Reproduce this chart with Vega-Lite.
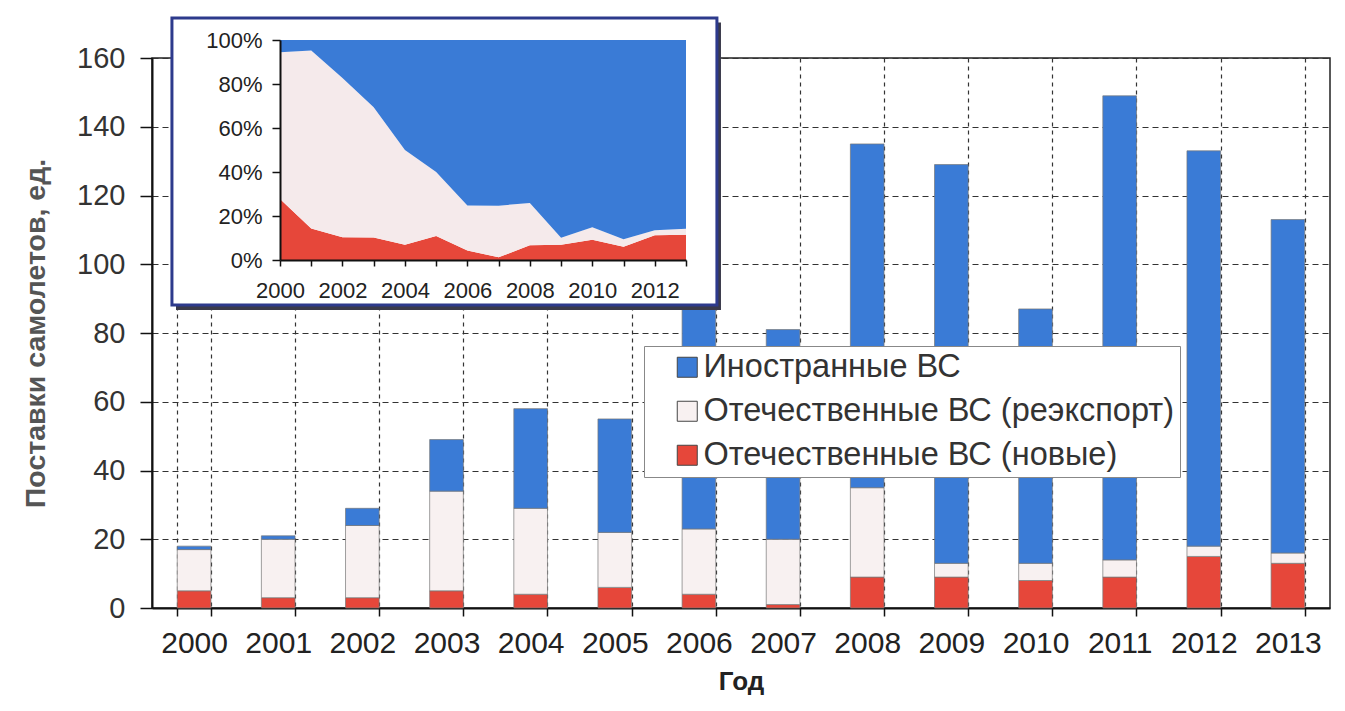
{
  "$schema": "https://vega.github.io/schema/vega-lite/v6.json",
  "width": 1178,
  "height": 550,
  "autosize": {"type": "none"},
  "padding": {"left": 152, "top": 58, "right": 15, "bottom": 103},
  "background": "white",
  "config": {
    "font": "Liberation Sans",
    "view": {"stroke": "#222", "strokeWidth": 1.5}
  },
  "data": {
    "values": [
      {"year": 2000, "type": "Отечественные ВС (новые)", "n": 5, "k": 1},
      {"year": 2000, "type": "Отечественные ВС (реэкспорт)", "n": 12, "k": 2},
      {"year": 2000, "type": "Иностранные ВС", "n": 1, "k": 3},
      {"year": 2001, "type": "Отечественные ВС (новые)", "n": 3, "k": 1},
      {"year": 2001, "type": "Отечественные ВС (реэкспорт)", "n": 17, "k": 2},
      {"year": 2001, "type": "Иностранные ВС", "n": 1, "k": 3},
      {"year": 2002, "type": "Отечественные ВС (новые)", "n": 3, "k": 1},
      {"year": 2002, "type": "Отечественные ВС (реэкспорт)", "n": 21, "k": 2},
      {"year": 2002, "type": "Иностранные ВС", "n": 5, "k": 3},
      {"year": 2003, "type": "Отечественные ВС (новые)", "n": 5, "k": 1},
      {"year": 2003, "type": "Отечественные ВС (реэкспорт)", "n": 29, "k": 2},
      {"year": 2003, "type": "Иностранные ВС", "n": 15, "k": 3},
      {"year": 2004, "type": "Отечественные ВС (новые)", "n": 4, "k": 1},
      {"year": 2004, "type": "Отечественные ВС (реэкспорт)", "n": 25, "k": 2},
      {"year": 2004, "type": "Иностранные ВС", "n": 29, "k": 3},
      {"year": 2005, "type": "Отечественные ВС (новые)", "n": 6, "k": 1},
      {"year": 2005, "type": "Отечественные ВС (реэкспорт)", "n": 16, "k": 2},
      {"year": 2005, "type": "Иностранные ВС", "n": 33, "k": 3},
      {"year": 2006, "type": "Отечественные ВС (новые)", "n": 4, "k": 1},
      {"year": 2006, "type": "Отечественные ВС (реэкспорт)", "n": 19, "k": 2},
      {"year": 2006, "type": "Иностранные ВС", "n": 70, "k": 3},
      {"year": 2007, "type": "Отечественные ВС (новые)", "n": 1, "k": 1},
      {"year": 2007, "type": "Отечественные ВС (реэкспорт)", "n": 19, "k": 2},
      {"year": 2007, "type": "Иностранные ВС", "n": 61, "k": 3},
      {"year": 2008, "type": "Отечественные ВС (новые)", "n": 9, "k": 1},
      {"year": 2008, "type": "Отечественные ВС (реэкспорт)", "n": 26, "k": 2},
      {"year": 2008, "type": "Иностранные ВС", "n": 100, "k": 3},
      {"year": 2009, "type": "Отечественные ВС (новые)", "n": 9, "k": 1},
      {"year": 2009, "type": "Отечественные ВС (реэкспорт)", "n": 4, "k": 2},
      {"year": 2009, "type": "Иностранные ВС", "n": 116, "k": 3},
      {"year": 2010, "type": "Отечественные ВС (новые)", "n": 8, "k": 1},
      {"year": 2010, "type": "Отечественные ВС (реэкспорт)", "n": 5, "k": 2},
      {"year": 2010, "type": "Иностранные ВС", "n": 74, "k": 3},
      {"year": 2011, "type": "Отечественные ВС (новые)", "n": 9, "k": 1},
      {"year": 2011, "type": "Отечественные ВС (реэкспорт)", "n": 5, "k": 2},
      {"year": 2011, "type": "Иностранные ВС", "n": 135, "k": 3},
      {"year": 2012, "type": "Отечественные ВС (новые)", "n": 15, "k": 1},
      {"year": 2012, "type": "Отечественные ВС (реэкспорт)", "n": 3, "k": 2},
      {"year": 2012, "type": "Иностранные ВС", "n": 115, "k": 3},
      {"year": 2013, "type": "Отечественные ВС (новые)", "n": 13, "k": 1},
      {"year": 2013, "type": "Отечественные ВС (реэкспорт)", "n": 3, "k": 2},
      {"year": 2013, "type": "Иностранные ВС", "n": 97, "k": 3}
    ]
  },
  "layer": [
    {
      "mark": {"type": "bar", "stroke": "#777", "strokeWidth": 0.7},
      "encoding": {
        "x": {
          "field": "year", "type": "ordinal",
          "scale": {"paddingInner": 0.6, "paddingOuter": 0.3},
          "axis": {
            "title": "Год", "titleFontSize": 26, "titleFontWeight": "bold", "titleColor": "#222", "titlePadding": 10,
            "labelFontSize": 30, "labelColor": "#222", "labelAngle": 0, "labelPadding": 12,
            "tickBand": "extent", "tickSize": 8, "tickColor": "#111", "tickWidth": 1.5,
            "domainColor": "#111", "domainWidth": 2,
            "grid": true, "gridDash": [4, 4], "gridColor": "#333", "gridWidth": 1.2
          }
        },
        "y": {
          "field": "n", "type": "quantitative", "stack": "zero",
          "scale": {"domain": [0, 160], "nice": false},
          "axis": {
            "title": "Поставки самолетов, ед.", "titleFontSize": 28.5, "titleFontWeight": "bold", "titleColor": "#555", "titlePadding": 26,
            "values": [0, 20, 40, 60, 80, 100, 120, 140, 160],
            "labelFontSize": 29, "labelColor": "#333", "labelPadding": 15,
            "tickSize": 12, "tickColor": "#111", "tickWidth": 1.5,
            "domainColor": "#111", "domainWidth": 2,
            "grid": true, "gridDash": [6, 4], "gridColor": "#333", "gridWidth": 1.2
          }
        },
        "color": {
          "field": "type", "type": "nominal",
          "scale": {
            "domain": ["Иностранные ВС", "Отечественные ВС (реэкспорт)", "Отечественные ВС (новые)"],
            "range": ["#3a7bd6", "#f8f1f1", "#e6473a"]
          },
          "legend": {
            "title": null, "orient": "none", "legendX": 492, "legendY": 288,
            "fillColor": "white", "strokeColor": "#888", "padding": 5,
            "labelFontSize": 32.5, "labelColor": "#333", "labelLimit": 700, "labelOffset": 0,
            "symbolType": "square", "symbolSize": 400, "symbolStrokeColor": "#444", "symbolStrokeWidth": 1,
            "symbolOffset": 22, "rowPadding": 11
          }
        },
        "order": {"field": "k", "type": "quantitative"}
      }
    },
    {
      "layer": [
        {
          "data": {"values": [{}]},
          "mark": {"type": "rect", "fill": "#3a3a4a"},
          "encoding": {
            "x": {
              "datum": 1996.67, "type": "quantitative",
              "scale": {"domain": [2000, 2013], "range": [128, 534], "nice": false, "zero": false},
              "axis": {
                "orient": "bottom", "offset": -348, "zindex": 2, "title": null, "grid": false,
                "values": [2000, 2001, 2002, 2003, 2004, 2005, 2006, 2007, 2008, 2009, 2010, 2011, 2012, 2013],
                "labelExpr": "datum.value % 2 == 0 ? '' + datum.value : ''",
                "labelFontSize": 22, "labelColor": "#222", "labelPadding": 14, "labelFlush": false, "labelOverlap": false,
                "tickSize": 6, "tickColor": "#111", "tickWidth": 1.5, "domainColor": "#111", "domainWidth": 2
              }
            },
            "x2": {"datum": 2014.12},
            "y": {
              "datum": -0.227, "type": "quantitative",
              "scale": {"domain": [0, 1], "range": [202, -18], "nice": false},
              "axis": {
                "orient": "left", "offset": -128, "zindex": 2, "title": null, "grid": false,
                "values": [0, 0.2, 0.4, 0.6, 0.8, 1], "format": ".0%",
                "labelFontSize": 22, "labelColor": "#222", "labelPadding": 10,
                "tickSize": 8, "tickColor": "#111", "tickWidth": 1.5, "domainColor": "#111", "domainWidth": 2
              }
            },
            "y2": {"datum": 1.08}
          }
        },
        {
          "data": {"values": [{}]},
          "mark": {"type": "rect", "fill": "white", "stroke": "#2d3a8c", "strokeWidth": 3},
          "encoding": {
            "x": {
              "datum": 1996.54, "type": "quantitative",
              "scale": {"domain": [2000, 2013], "range": [128, 534], "nice": false, "zero": false},
              "axis": {
                "orient": "bottom", "offset": -348, "zindex": 2, "title": null, "grid": false,
                "values": [2000, 2001, 2002, 2003, 2004, 2005, 2006, 2007, 2008, 2009, 2010, 2011, 2012, 2013],
                "labelExpr": "datum.value % 2 == 0 ? '' + datum.value : ''",
                "labelFontSize": 22, "labelColor": "#222", "labelPadding": 14, "labelFlush": false, "labelOverlap": false,
                "tickSize": 6, "tickColor": "#111", "tickWidth": 1.5, "domainColor": "#111", "domainWidth": 2
              }
            },
            "x2": {"datum": 2013.99},
            "y": {
              "datum": -0.205, "type": "quantitative",
              "scale": {"domain": [0, 1], "range": [202, -18], "nice": false},
              "axis": {
                "orient": "left", "offset": -128, "zindex": 2, "title": null, "grid": false,
                "values": [0, 0.2, 0.4, 0.6, 0.8, 1], "format": ".0%",
                "labelFontSize": 22, "labelColor": "#222", "labelPadding": 10,
                "tickSize": 8, "tickColor": "#111", "tickWidth": 1.5, "domainColor": "#111", "domainWidth": 2
              }
            },
            "y2": {"datum": 1.10}
          }
        },
        {
          "mark": {"type": "area"},
          "encoding": {
            "x": {
              "field": "year", "type": "quantitative",
              "scale": {"domain": [2000, 2013], "range": [128, 534], "nice": false, "zero": false},
              "axis": {
                "orient": "bottom", "offset": -348, "zindex": 2, "title": null, "grid": false,
                "values": [2000, 2001, 2002, 2003, 2004, 2005, 2006, 2007, 2008, 2009, 2010, 2011, 2012, 2013],
                "labelExpr": "datum.value % 2 == 0 ? '' + datum.value : ''",
                "labelFontSize": 22, "labelColor": "#222", "labelPadding": 14, "labelFlush": false, "labelOverlap": false,
                "tickSize": 6, "tickColor": "#111", "tickWidth": 1.5, "domainColor": "#111", "domainWidth": 2
              }
            },
            "y": {
              "field": "n", "type": "quantitative", "stack": "normalize",
              "scale": {"domain": [0, 1], "range": [202, -18], "nice": false},
              "axis": {
                "orient": "left", "offset": -128, "zindex": 2, "title": null, "grid": false,
                "values": [0, 0.2, 0.4, 0.6, 0.8, 1], "format": ".0%",
                "labelFontSize": 22, "labelColor": "#222", "labelPadding": 10,
                "tickSize": 8, "tickColor": "#111", "tickWidth": 1.5, "domainColor": "#111", "domainWidth": 2
              }
            },
            "color": {
              "field": "type", "type": "nominal",
              "scale": {
                "domain": ["Иностранные ВС", "Отечественные ВС (реэкспорт)", "Отечественные ВС (новые)"],
                "range": ["#3a7bd6", "#f5eaeb", "#e6473a"]
              },
              "legend": null
            },
            "order": {"field": "k", "type": "quantitative"}
          }
        }
      ]
    }
  ],
  "resolve": {
    "scale": {"x": "independent", "y": "independent", "color": "independent"},
    "axis": {"x": "independent", "y": "independent"}
  }
}
